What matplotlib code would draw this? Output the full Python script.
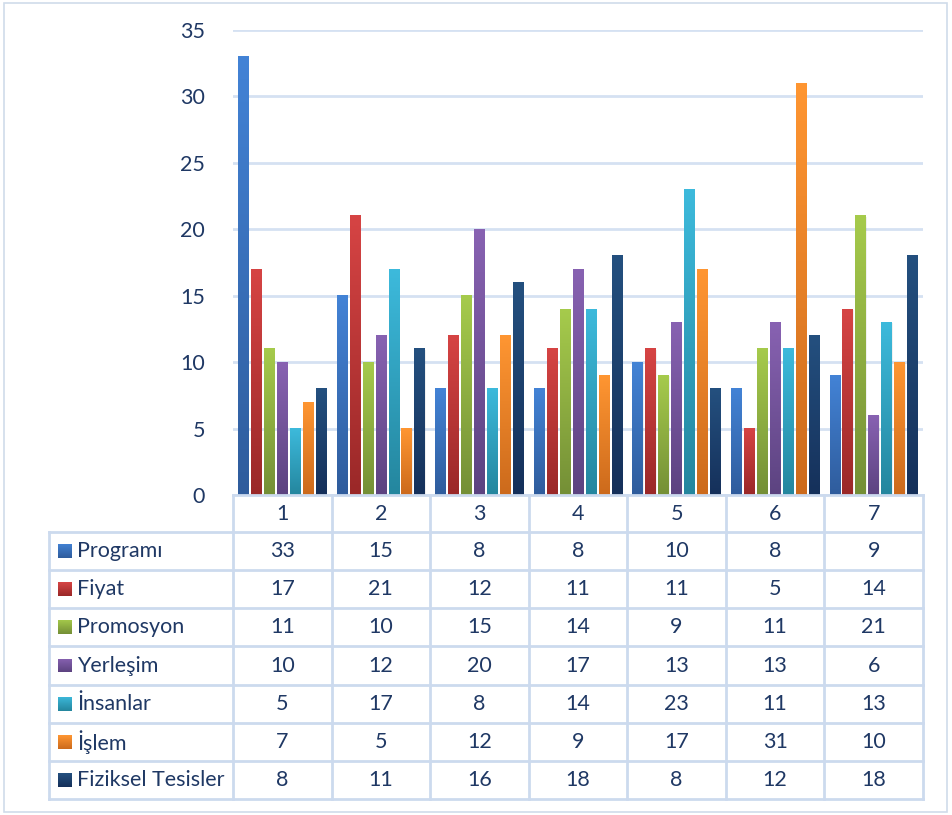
import numpy as np
import matplotlib
matplotlib.use("Agg")
import matplotlib.pyplot as plt
from matplotlib.lines import Line2D
from matplotlib.patches import Rectangle
from matplotlib.colors import LinearSegmentedColormap

categories = ["1", "2", "3", "4", "5", "6", "7"]
series_names = ["Programı", "Fiyat", "Promosyon", "Yerleşim", "İnsanlar", "İşlem", "Fiziksel Tesisler"]
programi = [33, 15, 8, 8, 10, 8, 9]
fiyat = [17, 21, 12, 11, 11, 5, 14]
promosyon = [11, 10, 15, 14, 9, 11, 21]
yerlesim = [10, 12, 20, 17, 13, 13, 6]
insanlar = [5, 17, 8, 14, 23, 11, 13]
islem = [7, 5, 12, 9, 17, 31, 10]
fiziksel = [8, 11, 16, 18, 8, 12, 18]
series_values = [programi, fiyat, promosyon, yerlesim, insanlar, islem, fiziksel]
yticks = [0, 5, 10, 15, 20, 25, 30, 35]

# (top colour, bottom colour) gradients
colors = [("#4383D6", "#2F5C9C"), ("#D64444", "#9A2828"), ("#A6CB4C", "#748F36"),
          ("#8862B2", "#5C4380"), ("#3DBADC", "#24869E"), ("#FF9632", "#CC6A1C"),
          ("#24507F", "#15305A")]

W, H = 953, 815
DPI = 100
TXT = "#1F3864"
GRID = "#D5E1F2"
TLINE = "#CCDAEE"
FONT = "Lato"
FS = 15.5

fig = plt.figure(figsize=(W / DPI, H / DPI), dpi=DPI)
fig.patch.set_facecolor("white")

def fx(x):
    return x / W

def fy(y):
    return 1 - y / H

ax_l, ax_r, ax_t, ax_b = 233, 923, 30, 495
ax = fig.add_axes([fx(ax_l), fy(ax_b), fx(ax_r) - fx(ax_l), fy(ax_t) - fy(ax_b)])
ax.set_facecolor("none")

n_cat = len(categories)
n_ser = len(series_values)
group_w = 0.92
bw = group_w / n_ser
x = np.arange(n_cat)

for i, (vals, (ctop, cbot)) in enumerate(zip(series_values, colors)):
    offs = -group_w / 2 + bw * (i + 0.5)
    bars = ax.bar(x + offs, vals, width=bw * 0.82, color="none", zorder=3)
    cmap = LinearSegmentedColormap.from_list("g%d" % i, [cbot, ctop])
    grad = np.linspace(1, 0, 256).reshape(-1, 1)
    for b in bars:
        bx, by, bwid, bh = b.get_x(), b.get_y(), b.get_width(), b.get_height()
        # soft shadow
        ax.add_patch(Rectangle((bx + 0.006, by), bwid, bh - 0.05, color="#000000", alpha=0.06,
                               lw=0, zorder=2))
        ax.imshow(grad, cmap=cmap, extent=[bx, bx + bwid, by, by + bh], aspect="auto",
                  zorder=3, interpolation="bilinear")

ax.set_xlim(-0.5, n_cat - 0.5)
ax.set_ylim(0, 35)
ax.set_yticks(yticks)
ax.set_yticklabels([str(t) for t in yticks], fontsize=FS, color=TXT, fontfamily=FONT)
ax.tick_params(axis="y", length=0, pad=20)
ax.set_xticks([])
ax.yaxis.grid(True, color=GRID, lw=2, zorder=0)
ax.set_axisbelow(True)
for s in ax.spines.values():
    s.set_visible(False)

# Data table drawn below the plot
col_edges = [ax_l + (ax_r - ax_l) * k / n_cat for k in range(n_cat + 1)]
left_edge = 49
header_top = 495
row_edges = [532 + k * (799 - 532) / n_ser for k in range(n_ser + 1)]

def hline(x0, x1, y, lw=2):
    fig.add_artist(Line2D([fx(x0), fx(x1)], [fy(y), fy(y)], color=TLINE, lw=lw,
                          transform=fig.transFigure))

def vline(x, y0, y1, lw=2):
    fig.add_artist(Line2D([fx(x), fx(x)], [fy(y0), fy(y1)], color=TLINE, lw=lw,
                          transform=fig.transFigure))

hline(col_edges[0], col_edges[-1], header_top)
for y in row_edges:
    hline(left_edge, col_edges[-1], y)
for cx in col_edges:
    vline(cx, header_top, row_edges[-1])
vline(left_edge, row_edges[0], row_edges[-1])

for j, c in enumerate(categories):
    cx = (col_edges[j] + col_edges[j + 1]) / 2
    fig.text(fx(cx), fy((header_top + row_edges[0]) / 2), c, ha="center", va="center",
             fontsize=FS, color=TXT, fontfamily=FONT)

for i, (name, vals) in enumerate(zip(series_names, series_values)):
    yc = (row_edges[i] + row_edges[i + 1]) / 2
    ctop, cbot = colors[i]
    sq = 14
    cmap = LinearSegmentedColormap.from_list("s%d" % i, [cbot, ctop])
    sax = fig.add_axes([fx(58), fy(yc + sq / 2), sq / W, sq / H])
    sax.imshow(np.linspace(1, 0, 64).reshape(-1, 1), cmap=cmap, aspect="auto")
    sax.set_axis_off()
    fig.text(fx(77), fy(yc), name, ha="left", va="center", fontsize=FS, color=TXT,
             fontfamily=FONT)
    for j, v in enumerate(vals):
        cx = (col_edges[j] + col_edges[j + 1]) / 2
        fig.text(fx(cx), fy(yc), str(v), ha="center", va="center", fontsize=FS,
                 color=TXT, fontfamily=FONT)

# outer frame
fig.add_artist(Rectangle((fx(4), fy(812)), fx(947) - fx(4), fy(3) - fy(812), fill=False,
                         ec="#D0DCEA", lw=1.2, transform=fig.transFigure))

fig.savefig("out.png", dpi=DPI)
